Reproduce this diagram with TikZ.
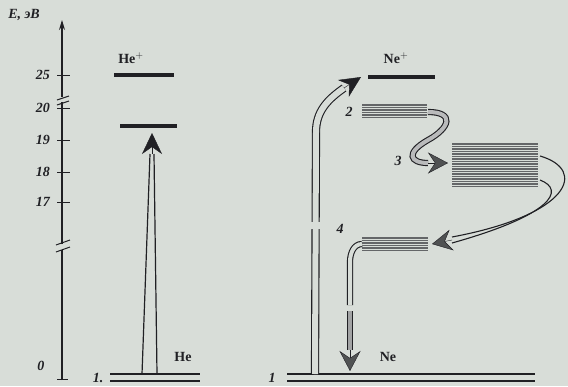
\documentclass[tikz,border=0pt]{standalone}
\usepackage{fontspec}
\setmainfont{Liberation Serif}
\usetikzlibrary{arrows.meta}
\definecolor{paper}{RGB}{216,221,216}
\definecolor{ink}{RGB}{32,32,36}
\definecolor{band}{RGB}{100,102,104}

\begin{document}
\begin{tikzpicture}[
  x=1pt, y=-1pt,
  every node/.style={inner sep=1pt, text=ink, font=\fontsize{14}{16}\selectfont\bfseries},
  num/.style={font=\fontsize{14}{16}\selectfont\bfseries\itshape},
  level/.style={line width=4.5pt, draw=ink},
  ground/.style={line width=1.3pt, draw=ink},
  tube/.style={draw=ink, line width=1.1pt, double=paper},
  strip/.style={draw=band, line width=1.2pt},
  tip/.style={draw=ink, -{Stealth[length=21pt,width=20pt,inset=7pt,fill=ink]}},
  gtip/.style={draw=ink, -{Stealth[length=20pt,width=21pt,inset=7pt,fill=band!80!black]}}
]
  \fill[paper] (0,0) rectangle (568,386);
  \useasboundingbox (0,0) rectangle (568,386);

  % energy axis
  \coordinate (ax0) at (62,380);
  \coordinate (axtop) at (62,20);
  \draw[ink, line width=1.2pt] (ax0) -- (62,250) (62,244) -- (62,102);
  \draw[ink, line width=1.2pt, -{Stealth[length=10pt,width=6pt]}] (62,97) -- (axtop);
  \draw[ink, line width=1pt] (56,245) -- (70,240) (56,252) -- (70,247)
                             (57,100) -- (69,96) (57,105) -- (69,101);
  \foreach \v/\y in {25/75,20/108,19/140,18/172,17/202} {
    \draw[ink, line width=1pt] (57,\y) -- (70,\y);
    \node[num, left] (t\v) at (51,\y) {\v};
  }
  \draw[ink, line width=1pt] (57,379) -- (68,379);
  \node[num] (t0) at (41,366) {0};
  \node[num] (E) at (24,15) {E, эВ};

  % He
  \node (heplus) at (131,58) {He$^{+}$};
  \draw[level] (114,75) -- (174,75);
  \draw[level] (120,126) -- (177,126);
  \node[num] (one) at (98,378) {1.};
  \node (he) at (183,357) {He};
  \draw[ground] (110,374) -- (200,374);
  \draw[ground] (110,381) -- (200,381);
  \coordinate (heA) at (142,374);
  \coordinate (heB) at (157,374);
  \coordinate (heC) at (152,154);
  \coordinate (heD) at (152,133);
  \draw[ink, line width=1.2pt] (heA) -- ([xshift=-2pt]heC) (heB) -- ([xshift=2pt]heC);
  \draw[tip] (heC) -- (heD);

  % Ne
  \node (neplus) at (396,58) {Ne$^{+}$};
  \draw[level] (368,77) -- (435,77);
  \node[num] (n2) at (349,112) {2};
  \node[num] (n3) at (398,161) {3};
  \node[num] (n4) at (340,229) {4};
  \foreach \y in {105,107.5,...,119} \draw[strip] (362,\y) -- (427,\y);
  \foreach \y in {144,146.5,...,187} \draw[strip] (452,\y) -- (538,\y);
  \foreach \y in {238,240.5,...,251} \draw[strip] (362,\y) -- (428,\y);
  \node[num] (nOne) at (272,378) {1};
  \node (ne) at (388,357) {Ne};
  \draw[ground] (287,374) -- (535,374);
  \draw[ground] (287,381) -- (535,381);

  % ionisation of Ne
  \coordinate (neA) at (315,374);
  \coordinate (neB) at (316,132);
  \coordinate (neC) at (344,88);
  \coordinate (neD) at (361,77);
  \draw[tube, double distance=6pt] (neA) -- (neB) to[out=90,in=215] (neC);
  \draw[tip] (neC) -- (neD);
  \fill[paper] (305,222) rectangle (327,229);

  % 2 -> 3
  \coordinate (l2) at (428,112);
  \coordinate (b3) at (428,163);
  \coordinate (l3) at (448,163);
  \draw[tube, double=band!45, double distance=4pt] (l2) .. controls (455,112) and (450,128) .. (428,140)
    .. controls (405,153) and (410,163) .. (b3);
  \draw[gtip] (b3) -- (l3);

  % 3 -> 4
  \coordinate (l3a) at (540,156);
  \coordinate (l3b) at (540,180);
  \coordinate (b4) at (452,240);
  \coordinate (l4) at (432,244);
  \draw[ink, line width=1.1pt] (l3a) .. controls (588,170) and (570,215) .. ([yshift=3pt]b4);
  \draw[ink, line width=1.1pt] (l3b) .. controls (566,190) and (552,215) .. ([yshift=-3pt]b4);
  \draw[gtip] (b4) -- (l4);

  % 4 -> 1
  \coordinate (s4) at (362,244);
  \coordinate (m1) at (350,311);
  \coordinate (b1) at (350,350);
  \coordinate (g1) at (350,371);
  \draw[tube, double distance=4pt] (s4) to[out=180,in=90] (350,262) -- (350,305);
  \draw[tube, double=band!60, double distance=4pt] (m1) -- (b1);
  \draw[gtip] (b1) -- (g1);
\end{tikzpicture}
\end{document}
